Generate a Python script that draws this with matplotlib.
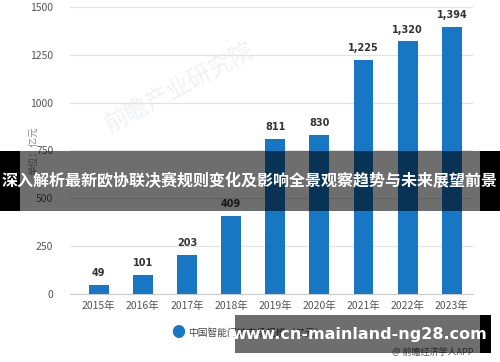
import matplotlib.pyplot as plt
from matplotlib.patches import Rectangle

plt.rcParams['font.family'] = ['Noto Sans CJK SC', 'DejaVu Sans']

years = ['2015年', '2016年', '2017年', '2018年', '2019年', '2020年', '2021年', '2022年', '2023年']
values = [49, 101, 203, 409, 811, 830, 1225, 1320, 1394]
labels = ['49', '101', '203', '409', '811', '830', '1,225', '1,320', '1,394']
yticks = [0, 250, 500, 750, 1000, 1250, 1500]

blue = '#1777c4'

fig = plt.figure(figsize=(5, 3.62), dpi=100)
ax = fig.add_axes([0.14, 0.188, 0.806, 0.793])

x = range(len(years))
ax.bar(x, values, width=0.45, color=blue, zorder=3)
for i, (v, t) in enumerate(zip(values, labels)):
    ax.text(i, v + 35, t, ha='center', va='bottom', fontsize=7, fontweight='bold',
            color='#333333', family='DejaVu Sans')

ax.set_xlim(-0.65, 8.48)
ax.set_ylim(0, 1500)
ax.set_yticks(yticks)
ax.set_xticks(list(x))
ax.set_xticklabels(years)
ax.tick_params(axis='both', length=0, labelsize=7.5, colors='#555555')
ax.tick_params(axis='x', pad=5)
ax.tick_params(axis='y', pad=12)
ax.grid(axis='y', color='#e3e3e3', linewidth=0.9, zorder=0)
for s in ['top', 'right', 'left']:
    ax.spines[s].set_visible(False)
ax.spines['bottom'].set_color('#cccccc')

fig.text(0.066, 0.585, '单位：亿元', rotation=90, ha='center', va='center',
         fontsize=7, color='#888888')

# watermark
fig.text(0.36, 0.76, '前瞻产业研究院', rotation=28, ha='center', va='center',
         fontsize=17, color='#e2e6eb', alpha=0.5, zorder=0)

# legend
fig.text(0.357, 0.08, '●', ha='center', va='center', fontsize=10, color=blue)
fig.text(0.376, 0.08, '中国智能门锁市场规模（亿元）', ha='left', va='center',
         fontsize=7, color='#444444')
fig.text(0.946, 0.025, '@ 前瞻经济学人APP', ha='right', va='center',
         fontsize=6.5, color='#555555')

# title banner
fig.patches.append(Rectangle((0.04, 1 - 211 / 362), 0.92, 60 / 362, transform=fig.transFigure,
                             facecolor='black', alpha=0.57, zorder=10))
fig.patches.append(Rectangle((0, 1 - 211 / 362), 0.04, 60 / 362, transform=fig.transFigure,
                             facecolor='black', zorder=10))
fig.patches.append(Rectangle((0.96, 1 - 211 / 362), 0.04, 60 / 362, transform=fig.transFigure,
                             facecolor='black', zorder=10))
fig.text(0.5, 1 - 181 / 362, '深入解析最新欧协联决赛规则变化及影响全景观察趋势与未来展望前景',
         ha='center', va='center', fontsize=11.5, fontweight='bold', color='white', zorder=11)

# url banner
fig.patches.append(Rectangle((0.47, 1 - 353 / 362), 0.49, 38 / 362, transform=fig.transFigure,
                             facecolor='black', alpha=0.57, zorder=10))
fig.patches.append(Rectangle((0.96, 1 - 353 / 362), 0.022, 38 / 362, transform=fig.transFigure,
                             facecolor='black', zorder=10))
fig.text(0.718, 1 - 335 / 362, 'www.cn-mainland-ng28.com', ha='center', va='center',
         fontsize=11.5, fontweight='bold', color='white', family='DejaVu Sans', zorder=11)

fig.savefig('out.png', dpi=100)
